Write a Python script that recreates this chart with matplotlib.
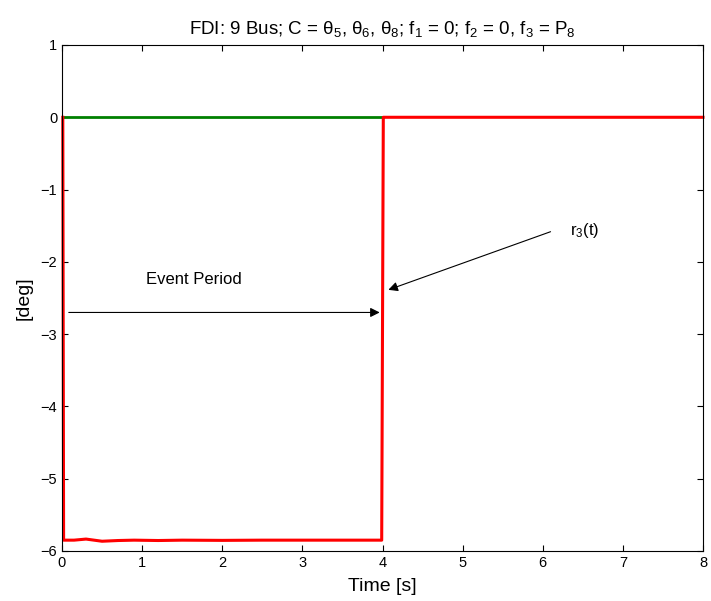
import numpy as np
import matplotlib
matplotlib.use('Agg')
import matplotlib.pyplot as plt

plt.rcParams['font.family'] = ['Liberation Sans', 'DejaVu Sans']
plt.rcParams['mathtext.fontset'] = 'custom'
plt.rcParams['mathtext.rm'] = 'Liberation Sans'
plt.rcParams['mathtext.it'] = 'Liberation Sans'

# residuo r1/r2 (verde) y r3 (rojo)
t_green = [0.0, 4.0]
r_green = [0.0, 0.0]

t_red = [0.01, 0.02, 0.15, 0.3, 0.4, 0.5, 0.7, 0.9, 1.2, 1.5, 2.0, 2.5, 3.0, 3.5, 3.99, 4.01, 8.0]
r_red = [0.0, -5.85, -5.85, -5.835, -5.85, -5.865, -5.855, -5.85, -5.855, -5.85, -5.853, -5.85, -5.85, -5.85, -5.85, 0.0, 0.0]

fig = plt.figure(figsize=(7.11, 6.01), dpi=100)
ax = fig.add_axes([62 / 711, 50 / 601, 641 / 711, 506 / 601])

ax.plot(t_green, r_green, color='green', lw=2)
ax.plot(t_red, r_red, color='red', lw=2.2, clip_on=False)

ax.set_xlim(0, 8)
ax.set_ylim(-6, 1)
ax.set_xticks(range(0, 9))
ax.set_yticks(range(-6, 2))
ax.set_yticklabels(['\u22126', '\u22125', '\u22124', '\u22123', '\u22122', '\u22121', '0', '1'])
ax.tick_params(direction='in', top=True, right=True, labelsize=10.5, length=4)
for s in ax.spines.values():
    s.set_linewidth(0.8)

ax.set_xlabel('Time [s]', fontsize=14, labelpad=6)
ax.set_ylabel('[deg]', fontsize=14, labelpad=6)
ax.set_title(r'FDI: 9 Bus; C = $\theta_5$, $\theta_6$, $\theta_8$; f$_1$ = 0; f$_2$ = 0, f$_3$ = P$_8$',
             fontsize=13.5, pad=8)

# flechas
ax.annotate('', xy=(4.0, -2.7), xytext=(0.05, -2.7),
            arrowprops=dict(arrowstyle='-|>', color='black', lw=0.8, mutation_scale=14))
ax.text(1.05, -2.25, 'Event Period', fontsize=12, va='center', ha='left')
ax.annotate('', xy=(4.04, -2.4), xytext=(6.13, -1.57),
            arrowprops=dict(arrowstyle='-|>', color='black', lw=0.8, mutation_scale=14))
ax.text(6.34, -1.57, r'r$_3$(t)', fontsize=12, va='center', ha='left')

plt.savefig('out.png')
